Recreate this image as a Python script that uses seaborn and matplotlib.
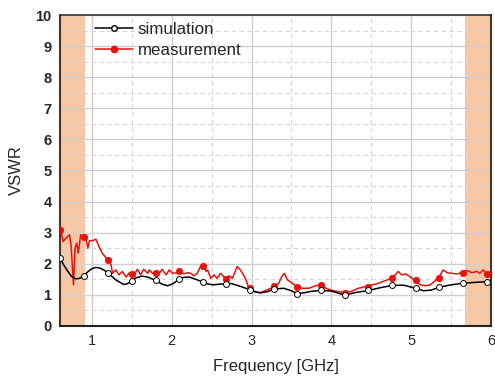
import numpy as np
import pandas as pd
import matplotlib
matplotlib.use("Agg")
import matplotlib.pyplot as plt
import seaborn as sns
from matplotlib.ticker import MultipleLocator
from matplotlib.lines import Line2D

# ---- data ----
sim_f = [0.6, 0.65, 0.7, 0.75, 0.8, 0.85, 0.9, 0.95, 1.0, 1.05, 1.1, 1.15, 1.2, 1.3, 1.4, 1.45,
         1.5, 1.55, 1.63, 1.7, 1.8, 1.88, 1.95, 2.02, 2.09, 2.15, 2.22, 2.3, 2.39, 2.45, 2.52,
         2.6, 2.69, 2.75, 2.85, 2.98, 3.05, 3.11, 3.2, 3.28, 3.4, 3.5, 3.57, 3.65, 3.75, 3.87,
         4.0, 4.1, 4.17, 4.3, 4.47, 4.6, 4.76, 4.9, 5.06, 5.15, 5.25, 5.35, 5.5, 5.65, 5.8,
         5.95, 6.0]
sim_v = [2.18, 1.95, 1.75, 1.58, 1.51, 1.53, 1.62, 1.74, 1.84, 1.88, 1.86, 1.80, 1.71, 1.48, 1.33, 1.36,
         1.45, 1.54, 1.60, 1.57, 1.46, 1.34, 1.29, 1.36, 1.50, 1.56, 1.57, 1.50, 1.41, 1.35, 1.32,
         1.34, 1.36, 1.36, 1.28, 1.16, 1.09, 1.06, 1.10, 1.18, 1.21, 1.13, 1.04, 1.06, 1.11, 1.14,
         1.12, 1.04, 0.99, 1.07, 1.14, 1.22, 1.30, 1.31, 1.21, 1.13, 1.15, 1.24, 1.32, 1.37, 1.40,
         1.42, 1.43]

meas_f = [0.6, 0.61, 0.64, 0.675, 0.72, 0.74, 0.77, 0.79, 0.81, 0.83, 0.86, 0.9, 0.93, 0.95, 0.97,
          1.01, 1.05, 1.09, 1.13, 1.2, 1.24, 1.26, 1.3, 1.34, 1.38, 1.43, 1.47, 1.51, 1.53, 1.57,
          1.61, 1.65, 1.7, 1.72, 1.76, 1.8, 1.84, 1.88, 1.93, 1.97, 2.01, 2.07, 2.11, 2.15, 2.2,
          2.24, 2.28, 2.32, 2.36, 2.4, 2.43, 2.45, 2.49, 2.53, 2.57, 2.61, 2.65, 2.68, 2.72, 2.76,
          2.82, 2.86, 2.9, 2.93, 2.96, 2.99, 3.05, 3.11, 3.18, 3.24, 3.28, 3.34, 3.38, 3.41, 3.45,
          3.51, 3.57, 3.63, 3.72, 3.8, 3.86, 3.93, 4.01, 4.09, 4.15, 4.24, 4.34, 4.47, 4.59, 4.68,
          4.76, 4.8, 4.84, 4.88, 4.93, 4.97, 5.01, 5.05, 5.11, 5.18, 5.24, 5.3, 5.36, 5.4, 5.45,
          5.51, 5.57, 5.63, 5.7, 5.76, 5.82, 5.86, 5.9, 5.94, 6.0]
meas_v = [3.2, 3.11, 2.71, 2.82, 2.93, 2.6, 1.32, 2.5, 2.66, 2.34, 2.93, 2.89, 2.77, 2.5, 2.74,
          2.74, 2.79, 2.55, 2.34, 2.12, 1.96, 1.69, 1.8, 1.64, 1.75, 1.57, 1.71, 1.69, 1.64, 1.82,
          1.64, 1.82, 1.69, 1.8, 1.69, 1.75, 1.67, 1.82, 1.64, 1.80, 1.69, 1.71, 1.75, 1.67, 1.71,
          1.69, 1.61, 1.69, 1.91, 1.96, 1.75, 1.8, 1.53, 1.64, 1.53, 1.69, 1.59, 1.5, 1.61, 1.53,
          1.91, 1.8, 1.64, 1.48, 1.26, 1.16, 1.10, 1.07, 1.14, 1.21, 1.26, 1.37, 1.59, 1.69, 1.48,
          1.37, 1.26, 1.21, 1.21, 1.29, 1.32, 1.21, 1.14, 1.10, 1.07, 1.10, 1.21, 1.29, 1.37, 1.46,
          1.53, 1.64, 1.75, 1.64, 1.67, 1.61, 1.53, 1.46, 1.32, 1.29, 1.32, 1.45, 1.62, 1.8, 1.71,
          1.69, 1.67, 1.71, 1.78, 1.71, 1.75, 1.69, 1.8, 1.69, 1.67]

mark_f = [0.6, 0.9, 1.2, 1.5, 1.8, 2.09, 2.39, 2.68, 2.98, 3.28, 3.57, 3.87, 4.17, 4.46, 4.76,
          5.06, 5.35, 5.65, 5.95]
sim_mark_v = [2.18, 1.62, 1.71, 1.45, 1.46, 1.50, 1.41, 1.36, 1.16, 1.18, 1.04, 1.14, 0.99, 1.14,
              1.30, 1.21, 1.24, 1.37, 1.42]
meas_mark_v = [3.1, 2.85, 2.12, 1.67, 1.71, 1.75, 1.91, 1.52, 1.23, 1.29, 1.26, 1.30, 1.07, 1.24,
               1.53, 1.46, 1.55, 1.71, 1.67]

band_low = [0.6, 0.92]
band_high = [5.68, 6.0]

x_label = "Frequency [GHz]"
y_label = "VSWR"
series_names = ["simulation", "measurement"]

# ---- plot ----
sns.set_theme(style="white")
plt.rcParams['font.family'] = ['Liberation Sans', 'DejaVu Sans']

fig = plt.figure(figsize=(4.95, 3.78), dpi=100)
ax = fig.add_axes([0.121, 0.138, 0.871, 0.822])

shade = "#f6c8a6"
ax.axvspan(band_low[0], band_low[1], color=shade, lw=0, zorder=0)
ax.axvspan(band_high[0], band_high[1], color=shade, lw=0, zorder=0)

red = "#e8120c"
sim_df = pd.DataFrame({"f": sim_f, "v": sim_v})
meas_df = pd.DataFrame({"f": meas_f, "v": meas_v})
sns.lineplot(data=meas_df, x="f", y="v", ax=ax, color=red, lw=1.1, sort=False, zorder=3)
sns.lineplot(data=sim_df, x="f", y="v", ax=ax, color="black", lw=1.1, sort=False, zorder=4)
sns.scatterplot(x=mark_f, y=meas_mark_v, ax=ax, color=red, s=22, edgecolor=red,
                linewidth=0.5, zorder=5)
sns.scatterplot(x=mark_f, y=sim_mark_v, ax=ax, color="white", s=18, edgecolor="black",
                linewidth=0.7, zorder=6)

ax.set_xlim(0.6, 6.0)
ax.set_ylim(0, 10)
ax.xaxis.set_major_locator(MultipleLocator(1))
ax.xaxis.set_minor_locator(MultipleLocator(0.5))
ax.yaxis.set_major_locator(MultipleLocator(1))
ax.yaxis.set_minor_locator(MultipleLocator(0.5))

ax.grid(which="major", color="#cfcfcf", lw=1.0, ls="-", zorder=1)
ax.grid(which="minor", color="#d6d6d6", lw=0.8, ls=(0, (4, 3)), zorder=1)
ax.set_axisbelow(True)

spine_c = "#4a3428"
for s in ax.spines.values():
    s.set_color("#333333")
    s.set_linewidth(1.2)
ax.spines["left"].set_color(spine_c)
ax.spines["left"].set_linewidth(1.5)
ax.spines["bottom"].set_color("#222222")
ax.spines["bottom"].set_linewidth(1.5)
ax.spines["right"].set_color(spine_c)
ax.spines["right"].set_linewidth(1.5)

ax.tick_params(which="major", direction="in", length=4, width=1, color=spine_c,
               top=False, right=False)
ax.tick_params(which="minor", direction="in", length=2.5, width=1, color=spine_c,
               top=False, right=False)
ax.tick_params(axis="x", labelsize=10.5, pad=6)
ax.tick_params(axis="y", labelsize=10.5, pad=6)
for lab in ax.get_yticklabels():
    lab.set_fontweight("bold")

ax.set_xlabel(x_label, fontsize=12, labelpad=8)
ax.set_ylabel(y_label, fontsize=12, labelpad=8)

handles = [
    Line2D([0], [0], color="black", lw=1.1, marker="o", markersize=4,
           markerfacecolor="white", markeredgecolor="black"),
    Line2D([0], [0], color=red, lw=1.1, marker="o", markersize=4.5,
           markerfacecolor=red, markeredgecolor=red),
]
ax.legend(handles, series_names, loc="upper left", bbox_to_anchor=(0.055, 1.015),
          frameon=False, fontsize=12.2, handlelength=2.2, handletextpad=0.3,
          labelspacing=0.35, borderaxespad=0.3)

fig.savefig("out.png", dpi=100)
